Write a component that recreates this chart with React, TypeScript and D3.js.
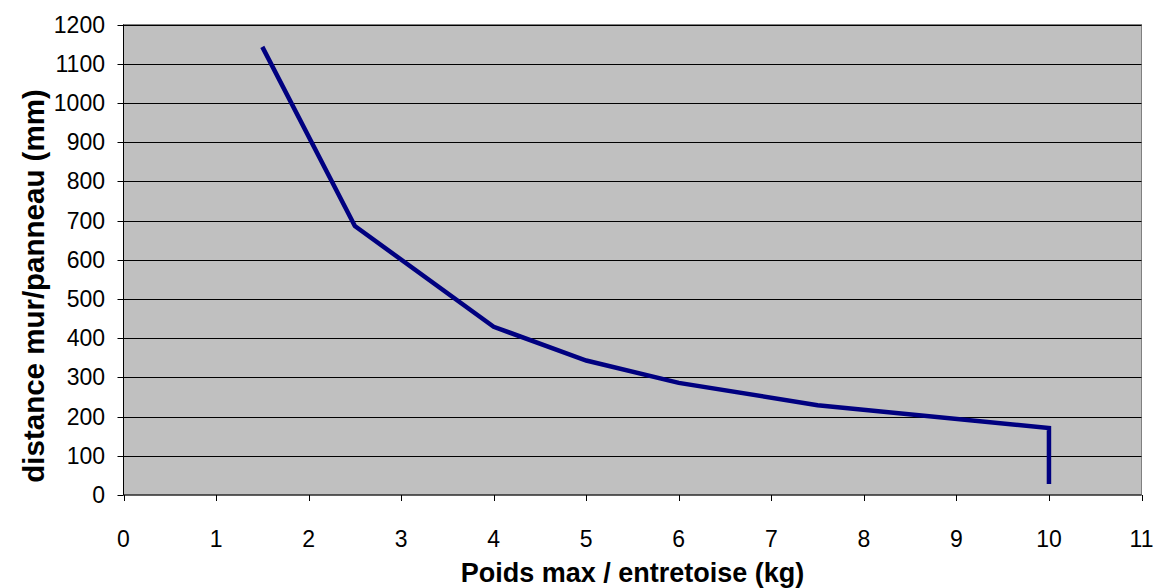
import React from "react";
import * as d3 from "d3";

const xValues = [1.5, 2.5, 4, 5, 6, 7.5, 10, 10];
const yValues = [1143, 686, 429, 343, 286, 229, 171, 28];
const xTicks = [0, 1, 2, 3, 4, 5, 6, 7, 8, 9, 10, 11];
const yTicks = [0, 100, 200, 300, 400, 500, 600, 700, 800, 900, 1000, 1100, 1200];
const xTitle = "Poids max / entretoise (kg)";
const yTitle = "distance mur/panneau (mm)";

export default function App() {
  const W = 1156, H = 588;
  const left = 123.5, right = 1141.5, top = 24.5, bottom = 495;
  const x = d3.scaleLinear().domain([0, 11]).range([left, right]);
  const y = d3.scaleLinear().domain([0, 1200]).range([bottom, top]);
  const pts: [number, number][] = xValues.map((v, i) => [v, yValues[i]]);
  const line = d3.line<[number, number]>().x(d => x(d[0])).y(d => y(d[1]));
  const font = "'Liberation Sans', Arial, sans-serif";
  return (
    <svg width={W} height={H} style={{ position: "absolute", left: 0, top: 0 }}>
      <rect x={0} y={0} width={W} height={H} fill="#ffffff" />
      <rect x={left} y={top} width={right - left} height={bottom - top} fill="#c0c0c0" stroke="#808080" strokeWidth={1} />
      {yTicks.filter(t => t > 0).map(t => (
        <line key={"g" + t} x1={left} x2={right} y1={Math.round(y(t)) + 0.5} y2={Math.round(y(t)) + 0.5} stroke="#000" strokeWidth={1} />
      ))}
      <line x1={left} x2={left} y1={top} y2={bottom} stroke="#000" strokeWidth={1} />
      <line x1={left} x2={right} y1={bottom} y2={bottom} stroke="#000" strokeWidth={1} />
      {yTicks.map(t => (
        <g key={"y" + t}>
          <line x1={left - 6} x2={left} y1={Math.round(y(t)) + 0.5} y2={Math.round(y(t)) + 0.5} stroke="#000" />
          <text x={105} y={y(t)} dy="0.35em" textAnchor="end" fontFamily={font} fontSize={23}>{t}</text>
        </g>
      ))}
      {xTicks.map(t => (
        <g key={"x" + t}>
          <line x1={Math.round(x(t)) + 0.5} x2={Math.round(x(t)) + 0.5} y1={bottom} y2={bottom + 6} stroke="#000" />
          <text x={x(t)} y={547} textAnchor="middle" fontFamily={font} fontSize={23}>{t}</text>
        </g>
      ))}
      <path d={line(pts) || ""} fill="none" stroke="#000080" strokeWidth={4.5} strokeLinejoin="miter" />
      <text x={(left + right) / 2} y={582} textAnchor="middle" fontFamily={font} fontSize={27} fontWeight="bold">{xTitle}</text>
      <text transform={`translate(44, 286) rotate(-90)`} x={0} y={0} textAnchor="middle" fontFamily={font} fontSize={29.5} fontWeight="bold">{yTitle}</text>
    </svg>
  );
}
